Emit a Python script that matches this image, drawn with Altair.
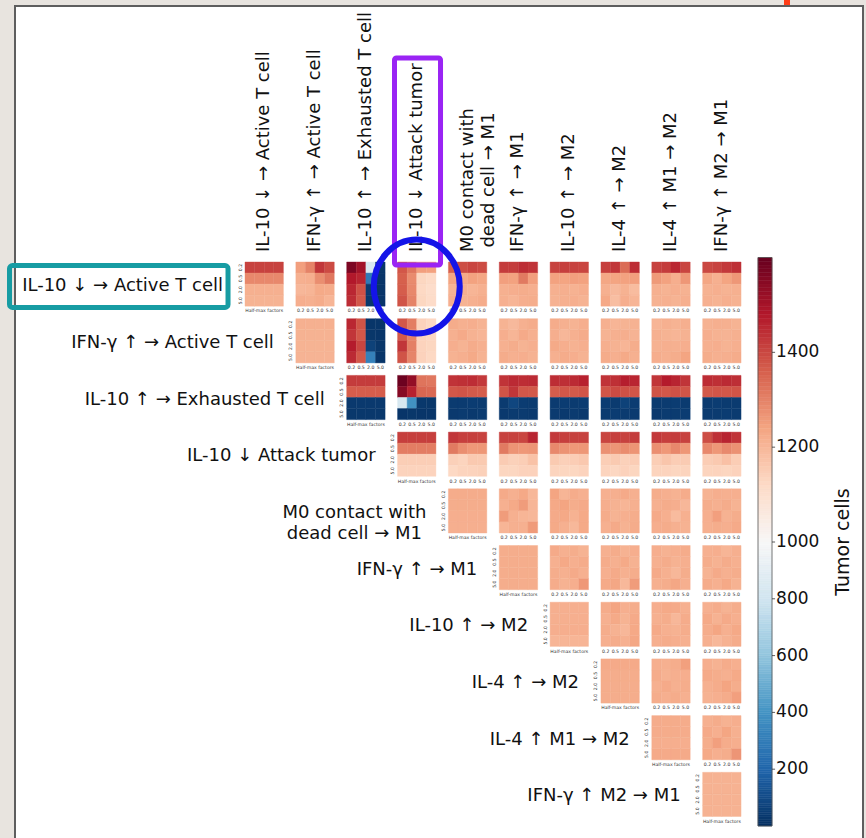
import altair as alt
import pandas as pd

# ---------------------------------------------------------------- data
FACTORS = ["0.2", "0.5", "2.0", "5.0"]

RULES = [
    "IL-10 ↓ → Active T cell",
    "IFN-γ ↑ → Active T cell",
    "IL-10 ↑ → Exhausted T cell",
    "IL-10 ↓ Attack tumor",
    "M0 contact with\ndead cell → M1",
    "IFN-γ ↑ → M1",
    "IL-10 ↑ → M2",
    "IL-4 ↑ → M2",
    "IL-4 ↑ M1 → M2",
    "IFN-γ ↑ M2 → M1",
]

# Tumor cell counts; ROW_k holds the panels of row k for columns k..9,
# each panel is 4x4 (rows: first rule's factor, cols: second rule's factor).
ROW_0 = [
    [[1410, 1410, 1410, 1410], [1290, 1290, 1290, 1290], [1215, 1215, 1215, 1215], [1210, 1210, 1210, 1210]],
    [[1250, 1300, 1430, 1395], [1215, 1220, 1280, 1320], [1200, 1205, 1230, 1225], [1220, 1215, 1225, 1205]],
    [[1565, 1505, 840, 25], [1480, 1460, 290, 20], [1455, 1385, 40, 20], [1445, 1375, 30, 20]],
    [[1375, 1320, 1250, 1245], [1360, 1285, 1130, 1120], [1365, 1290, 1125, 1110], [1380, 1300, 1130, 1115]],
    [[1360, 1390, 1405, 1395], [1240, 1230, 1245, 1235], [1210, 1215, 1205, 1215], [1220, 1210, 1215, 1225]],
    [[1420, 1420, 1445, 1435], [1250, 1245, 1315, 1250], [1215, 1220, 1222, 1218], [1215, 1205, 1220, 1222]],
    [[1410, 1415, 1410, 1405], [1245, 1240, 1250, 1245], [1215, 1218, 1212, 1220], [1212, 1215, 1218, 1210]],
    [[1415, 1430, 1340, 1445], [1235, 1240, 1245, 1250], [1215, 1195, 1212, 1190], [1232, 1185, 1220, 1205]],
    [[1410, 1420, 1455, 1405], [1260, 1245, 1220, 1265], [1215, 1210, 1218, 1212], [1212, 1215, 1210, 1218]],
    [[1400, 1410, 1425, 1440], [1235, 1215, 1240, 1265], [1212, 1218, 1210, 1215], [1215, 1210, 1218, 1212]],
]
ROW_1 = [
    [[1215, 1215, 1215, 1215], [1212, 1212, 1212, 1212], [1210, 1210, 1210, 1210], [1208, 1208, 1208, 1208]],
    [[1455, 1380, 20, 20], [1430, 1375, 25, 20], [1475, 1405, 65, 25], [1450, 1375, 320, 20]],
    [[1375, 1310, 1140, 1125], [1370, 1300, 1135, 1128], [1430, 1305, 1138, 1130], [1380, 1295, 1140, 1125]],
    [[1225, 1215, 1220, 1210], [1215, 1228, 1212, 1205], [1220, 1210, 1225, 1215], [1212, 1218, 1230, 1210]],
    [[1210, 1195, 1215, 1225], [1220, 1205, 1228, 1215], [1215, 1222, 1210, 1218], [1225, 1215, 1220, 1212]],
    [[1225, 1215, 1210, 1220], [1220, 1200, 1215, 1225], [1230, 1220, 1212, 1218], [1215, 1225, 1220, 1210]],
    [[1215, 1205, 1210, 1212], [1210, 1215, 1220, 1208], [1218, 1212, 1205, 1222], [1225, 1218, 1230, 1215]],
    [[1205, 1215, 1210, 1218], [1215, 1210, 1205, 1212], [1212, 1218, 1215, 1220], [1220, 1215, 1222, 1240]],
    [[1212, 1218, 1215, 1210], [1220, 1212, 1208, 1215], [1215, 1220, 1210, 1218], [1222, 1215, 1218, 1225]],
]
ROW_2 = [
    [[1420, 1420, 1420, 1420], [1365, 1365, 1365, 1365], [35, 35, 35, 35], [30, 30, 30, 30]],
    [[1590, 1530, 1325, 1320], [1550, 1465, 1350, 1345], [830, 390, 30, 25], [20, 25, 20, 20]],
    [[1435, 1440, 1445, 1425], [1375, 1380, 1370, 1365], [40, 40, 45, 40], [35, 40, 35, 40]],
    [[1435, 1450, 1445, 1450], [1380, 1430, 1375, 1372], [40, 80, 45, 40], [35, 40, 40, 35]],
    [[1445, 1442, 1450, 1465], [1365, 1375, 1370, 1378], [40, 45, 40, 45], [40, 35, 40, 35]],
    [[1435, 1440, 1470, 1458], [1378, 1395, 1385, 1378], [45, 40, 65, 45], [40, 45, 40, 40]],
    [[1430, 1475, 1460, 1432], [1380, 1375, 1385, 1378], [40, 40, 45, 40], [35, 40, 40, 45]],
    [[1445, 1440, 1450, 1442], [1372, 1378, 1375, 1380], [40, 45, 40, 40], [40, 40, 45, 40]],
]
ROW_3 = [
    [[1415, 1415, 1415, 1415], [1310, 1310, 1310, 1310], [1150, 1150, 1150, 1150], [1138, 1138, 1138, 1138]],
    [[1430, 1415, 1415, 1410], [1315, 1280, 1262, 1265], [1145, 1135, 1160, 1158], [1125, 1135, 1138, 1142]],
    [[1410, 1410, 1405, 1460], [1315, 1270, 1262, 1268], [1155, 1142, 1150, 1175], [1132, 1130, 1140, 1140]],
    [[1425, 1415, 1412, 1410], [1290, 1272, 1262, 1265], [1158, 1145, 1152, 1162], [1135, 1132, 1130, 1138]],
    [[1405, 1415, 1410, 1420], [1275, 1268, 1282, 1270], [1150, 1158, 1142, 1152], [1135, 1128, 1140, 1132]],
    [[1425, 1415, 1420, 1410], [1278, 1262, 1290, 1265], [1150, 1168, 1152, 1155], [1135, 1138, 1132, 1136]],
    [[1390, 1440, 1460, 1435], [1290, 1265, 1288, 1275], [1152, 1160, 1180, 1152], [1135, 1138, 1132, 1140]],
]
ROW_4 = [
    [[1225, 1225, 1225, 1225], [1222, 1222, 1222, 1222], [1220, 1220, 1220, 1220], [1218, 1218, 1218, 1218]],
    [[1228, 1215, 1232, 1200], [1215, 1230, 1255, 1205], [1255, 1215, 1205, 1200], [1205, 1215, 1215, 1258]],
    [[1240, 1205, 1225, 1215], [1232, 1240, 1222, 1228], [1228, 1232, 1212, 1230], [1230, 1215, 1198, 1230]],
    [[1215, 1218, 1228, 1215], [1220, 1212, 1205, 1215], [1225, 1210, 1218, 1222], [1215, 1228, 1212, 1225]],
    [[1222, 1218, 1212, 1225], [1215, 1225, 1220, 1200], [1228, 1218, 1192, 1215], [1220, 1225, 1215, 1212]],
    [[1210, 1220, 1215, 1218], [1222, 1215, 1225, 1210], [1218, 1250, 1212, 1222], [1215, 1222, 1218, 1228]],
]
ROW_5 = [
    [[1222, 1222, 1222, 1222], [1222, 1222, 1222, 1222], [1222, 1222, 1222, 1222], [1222, 1222, 1222, 1222]],
    [[1228, 1215, 1222, 1210], [1215, 1232, 1218, 1225], [1222, 1215, 1228, 1215], [1225, 1212, 1220, 1262]],
    [[1215, 1225, 1212, 1220], [1225, 1215, 1230, 1212], [1218, 1228, 1215, 1222], [1230, 1235, 1198, 1255]],
    [[1220, 1212, 1218, 1225], [1215, 1225, 1212, 1218], [1228, 1215, 1200, 1222], [1215, 1222, 1235, 1218]],
    [[1215, 1220, 1205, 1218], [1222, 1212, 1225, 1215], [1210, 1228, 1215, 1222], [1225, 1215, 1232, 1212]],
]
ROW_6 = [
    [[1218, 1218, 1218, 1218], [1218, 1218, 1218, 1218], [1220, 1220, 1220, 1220], [1205, 1205, 1205, 1205]],
    [[1225, 1240, 1218, 1222], [1215, 1230, 1210, 1228], [1222, 1212, 1200, 1232], [1218, 1225, 1215, 1235]],
    [[1220, 1230, 1228, 1215], [1215, 1222, 1200, 1225], [1228, 1215, 1212, 1222], [1218, 1225, 1220, 1215]],
    [[1215, 1225, 1210, 1222], [1230, 1212, 1228, 1218], [1222, 1238, 1215, 1232], [1215, 1198, 1212, 1225]],
]
ROW_7 = [
    [[1228, 1228, 1228, 1228], [1222, 1222, 1222, 1222], [1222, 1222, 1222, 1222], [1222, 1222, 1222, 1222]],
    [[1218, 1215, 1222, 1248], [1225, 1212, 1218, 1220], [1215, 1228, 1215, 1222], [1222, 1218, 1225, 1215]],
    [[1220, 1212, 1225, 1218], [1228, 1222, 1215, 1230], [1215, 1225, 1240, 1222], [1212, 1218, 1225, 1250]],
]
ROW_8 = [
    [[1225, 1225, 1225, 1225], [1225, 1225, 1225, 1225], [1220, 1220, 1220, 1220], [1228, 1228, 1228, 1228]],
    [[1215, 1225, 1212, 1220], [1228, 1218, 1238, 1215], [1222, 1250, 1225, 1220], [1230, 1218, 1222, 1268]],
]
ROW_9 = [
    [[1212, 1212, 1212, 1212], [1212, 1212, 1212, 1212], [1212, 1212, 1212, 1212], [1212, 1212, 1212, 1212]],
]
ROWS = [ROW_0, ROW_1, ROW_2, ROW_3, ROW_4, ROW_5, ROW_6, ROW_7, ROW_8, ROW_9]

# diverging palette (RdBu reversed) centred on 1000 cells
CMAP_STOPS = [0, 200, 400, 600, 800, 1000, 1120, 1240, 1360, 1480, 1600]
CMAP_COLORS = ["#053061", "#2166ac", "#4393c3", "#92c5de", "#d1e5f0", "#f7f7f7",
               "#fddbc7", "#f4a582", "#d6604d", "#b2182b", "#67001f"]
CBAR_TICKS = [200, 400, 600, 800, 1000, 1200, 1400]
CBAR_MAX = 1600

# ---------------------------------------------------------------- layout
W, H = 866, 838
X0, Y0 = 245, 262            # top-left panel corner
PX, PY = 50.85, 56.7         # panel pitch (one grid unit)
PANEL_W = 38.4 / PX
PANEL_H = 44.2 / PY
CELL_W = PANEL_W / 4
CELL_H = PANEL_H / 4
FONT = "DejaVu Sans"

XS = alt.Scale(domain=[-X0 / PX, (W - X0) / PX], nice=False, zero=False)
YS = alt.Scale(domain=[-Y0 / PY, (H - Y0) / PY], nice=False, zero=False, reverse=True)
CS = alt.Scale(domain=CMAP_STOPS, range=CMAP_COLORS, interpolate="rgb")


def X(f):
    return alt.X(f, type="quantitative", scale=XS, axis=None)


def Y(f):
    return alt.Y(f, type="quantitative", scale=YS, axis=None)


cells, xticks, yticks, diag = [], [], [], []
for i, row in enumerate(ROWS):
    for k, panel in enumerate(row):
        j = i + k
        for r in range(4):
            for c in range(4):
                cells.append(dict(x=j + c * CELL_W, x2=j + (c + 1) * CELL_W,
                                  y=i + r * CELL_H, y2=i + (r + 1) * CELL_H,
                                  v=panel[r][c]))
        below = i + PANEL_H + 5.2 / PY
        if j == i:
            diag.append(dict(x=j + PANEL_W / 2, y=below, t="Half-max factors"))
            for r in range(4):
                yticks.append(dict(x=j - 4.5 / PX, y=i + (r + 0.5) * CELL_H, t=FACTORS[r]))
        else:
            for c in range(4):
                xticks.append(dict(x=j + (c + 0.5) * CELL_W, y=below, t=FACTORS[c]))

cells = pd.DataFrame(cells)
row_lab = pd.DataFrame([dict(x=i - 22 / PX, y=i + PANEL_H / 2 + 2 / PY, t=s)
                        for i, s in enumerate(RULES)])
col_lab = pd.DataFrame([dict(x=j + PANEL_W / 2, y=-10 / PY, t=s)
                        for j, s in enumerate(RULES)])
single_r = row_lab[~row_lab.t.str.contains("\n")]
multi_r = row_lab[row_lab.t.str.contains("\n")]
single_c = col_lab[~col_lab.t.str.contains("\n")]
multi_c = col_lab[col_lab.t.str.contains("\n")]

one = pd.DataFrame([{"a": 0}])

frame = alt.Chart(one).mark_rect(fill="white", stroke="#5e5e5e", strokeWidth=2).encode(
    x=alt.value(15), x2=alt.value(863), y=alt.value(6), y2=alt.value(860))
flag = alt.Chart(one).mark_rect(fill="#ff3d17").encode(
    x=alt.value(784), x2=alt.value(790), y=alt.value(0), y2=alt.value(5))

heat = alt.Chart(cells).mark_rect(strokeWidth=0.4).encode(
    x=X("x"), x2="x2", y=Y("y"), y2="y2",
    color=alt.Color("v:Q", scale=CS, legend=None),
    stroke=alt.Stroke("v:Q", scale=CS, legend=None),
)

small = dict(font=FONT, fontSize=4.6, color="#333333", baseline="middle")
xt = alt.Chart(pd.DataFrame(xticks)).mark_text(align="center", **small).encode(
    x=X("x"), y=Y("y"), text="t:N")
dl = alt.Chart(pd.DataFrame(diag)).mark_text(align="center", **small).encode(
    x=X("x"), y=Y("y"), text="t:N")
yt = alt.Chart(pd.DataFrame(yticks)).mark_text(align="center", angle=270, **small).encode(
    x=X("x"), y=Y("y"), text="t:N")

big = dict(font=FONT, fontSize=18, color="#111111", baseline="middle", lineBreak="\n", lineHeight=21)
rl1 = alt.Chart(single_r).mark_text(align="right", **big).encode(x=X("x"), y=Y("y"), text="t:N")
rl2 = alt.Chart(multi_r).mark_text(align="center", dx=-72, **big).encode(x=X("x"), y=Y("y"), text="t:N")
cl1 = alt.Chart(single_c).mark_text(align="left", angle=270, **big).encode(x=X("x"), y=Y("y"), text="t:N")
cl2 = alt.Chart(multi_c).mark_text(align="center", angle=270, dx=72, **big).encode(
    x=X("x"), y=Y("y"), text="t:N")

# highlight boxes and ring
teal = alt.Chart(pd.DataFrame([dict(x=-4.631, x2=-0.334, y=0.062, y2=0.802)])).mark_rect(
    fillOpacity=0, stroke="#179ca3", strokeWidth=5, cornerRadius=3).encode(
    x=X("x"), x2="x2", y=Y("y"), y2="y2")
purple = alt.Chart(pd.DataFrame([dict(x=2.940, x2=3.845, y=-3.598, y2=0.053)])).mark_rect(
    fillOpacity=0, stroke="#9a24f4", strokeWidth=5, cornerRadius=2).encode(
    x=X("x"), x2="x2", y=Y("y"), y2="y2")
ELLIPSE = "M0,-1.093A1,1.093,0,1,1,0,1.093A1,1.093,0,1,1,0,-1.093Z"
ring = alt.Chart(pd.DataFrame([dict(x=3 + PANEL_W / 2, y=PANEL_H / 2 + 2.5 / PY)])).mark_point(
    shape=ELLIPSE, size=86 ** 2, filled=False, stroke="#1414e8", strokeWidth=6,
    opacity=1, strokeOpacity=1).encode(x=X("x"), y=Y("y"))

main = alt.layer(frame, flag, heat, xt, dl, yt, rl1, rl2, cl1, cl2, teal, purple, ring)

# ---------------------------------------------------------------- colorbar
CBX = alt.Scale(domain=[0, 1], range=[758, 772], nice=False, zero=False)
CBY = alt.Scale(domain=[0, 1000, CBAR_MAX], range=[826, 542, 257.5], nice=False, zero=False)


def CX(f):
    return alt.X(f, type="quantitative", scale=CBX, axis=None)


def CY(f):
    return alt.Y(f, type="quantitative", scale=CBY, axis=None)


steps = pd.DataFrame([dict(a=0, b=1, lo=v, hi=v + 8, mid=v + 4) for v in range(0, CBAR_MAX, 8)])
bar = alt.Chart(steps).mark_rect(strokeWidth=0.5).encode(
    x=CX("a"), x2="b", y=CY("lo"), y2="hi",
    color=alt.Color("mid:Q", scale=CS, legend=None),
    stroke=alt.Stroke("mid:Q", scale=CS, legend=None))
outline = alt.Chart(pd.DataFrame([dict(a=0, b=1, lo=0, hi=CBAR_MAX)])).mark_rect(
    fillOpacity=0, stroke="#555555", strokeWidth=0.8).encode(
    x=CX("a"), x2="b", y=CY("lo"), y2="hi")
tk = pd.DataFrame([dict(a=1, b=1.22, lab=1.29, v=v, t=str(v)) for v in CBAR_TICKS])
ticks = alt.Chart(tk).mark_rule(color="#333333", strokeWidth=0.8).encode(
    x=CX("a"), x2="b", y=CY("v"))
tlabels = alt.Chart(tk).mark_text(align="left", baseline="middle", font=FONT, fontSize=17,
                                  color="#111111").encode(x=CX("lab"), y=CY("v"), text="t:N")
ctitle = alt.Chart(pd.DataFrame([dict(x=6.07, y=1000, t="Tumor cells")])).mark_text(
    align="center", baseline="middle", angle=270, font=FONT, fontSize=19, color="#111111").encode(
    x=CX("x"), y=CY("y"), text="t:N")

cbar = alt.layer(bar, outline, ticks, tlabels, ctitle)

chart = alt.layer(main, cbar).resolve_scale(x="independent", y="independent").properties(
    width=W, height=H, autosize=alt.AutoSizeParams(type="none"), padding=0,
    background="#e8e4df",
).configure_view(strokeWidth=0)

chart.save("out.html", embed_options={"renderer": "svg", "actions": False})
